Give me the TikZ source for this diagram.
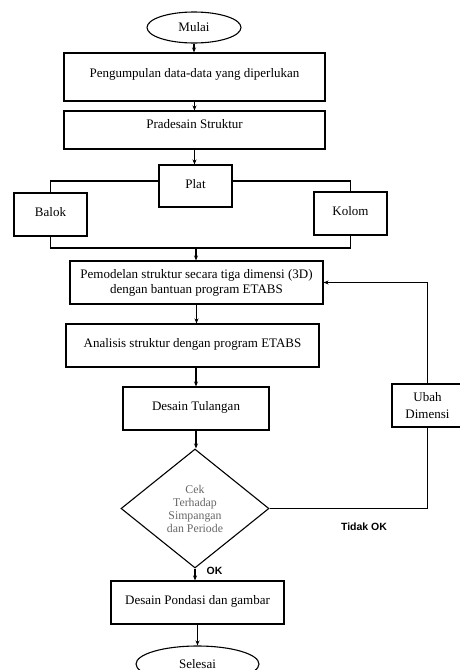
\documentclass[tikz,border=0pt]{standalone}
\usepackage{fontspec}
\setmainfont{Liberation Serif}
\newfontfamily\arialfont{Liberation Sans}
\usetikzlibrary{arrows.meta,positioning,shapes.geometric}

\begin{document}
\begin{tikzpicture}[x=1pt,y=-1pt,
    kotak/.style={draw, line width=1.1pt, inner sep=0pt, align=center,
      font=\fontsize{13}{15}\selectfont},
    satu/.style={text height=9pt, text depth=5pt},
    terminal/.style={draw, ellipse, line width=1.1pt, inner sep=0pt,
      font=\fontsize{13}{15}\selectfont},
    keputusan/.style={draw, diamond, aspect=1.24, line width=1.1pt, inner sep=0pt,
      align=center, text=black!60, font=\fontsize{11.8}{13}\selectfont},
    panah/.style={-{Stealth[length=5pt,width=4pt]}, line width=1.1pt},
    garis/.style={line width=1.1pt},
    catatan/.style={font=\arialfont\bfseries\fontsize{10.5}{12}\selectfont}]
    \useasboundingbox (0,0) rectangle (459,670);

    % Terminal awal
    \node[terminal, minimum width=94pt, minimum height=31pt] (mulai) at (194,27.5) {Mulai};

    % Kolom utama
    \node[kotak, minimum width=261pt, minimum height=48pt, text height=8pt, text depth=7pt]
      (data) at (194.5,77) {Pengumpulan data-data yang diperlukan};
    \node[kotak, minimum width=261pt, minimum height=38pt, text height=6pt, text depth=9pt]
      (pradesain) at (194.5,130) {Pradesain Struktur};

    % Elemen struktur
    \node[kotak, satu, minimum width=73pt, minimum height=42pt] (plat) at (195.5,186) {Plat};
    \node[kotak, satu, minimum width=73pt, minimum height=43pt] (balok) at (50.5,214.5) {Balok};
    \node[kotak, satu, minimum width=73pt, minimum height=43pt] (kolom) at (350.5,213.5) {Kolom};
    \coordinate (gabung) at (196,248);

    % Pemodelan dan analisis
    \node[kotak, minimum width=253pt, minimum height=43pt] (pemodelan) at (196.5,282.5)
      {Pemodelan struktur secara tiga dimensi (3D)\\dengan bantuan program ETABS};
    \node[kotak, satu, minimum width=253pt, minimum height=43pt] (analisis) at (192.5,345.5)
      {Analisis struktur dengan program ETABS};
    \node[kotak, satu, minimum width=146pt, minimum height=43pt] (tulangan) at (196,408.5)
      {Desain Tulangan};

    % Pengecekan
    \node[keputusan, minimum width=148pt, minimum height=119pt] (cek) at (195,508.5)
      {Cek\\Terhadap\\Simpangan\\dan Periode};
    \node[kotak, minimum width=71pt, minimum height=43pt] (ubah) at (427.5,405.5)
      {Ubah\\[2pt]Dimensi};
    \node[catatan] (tidakok) at (364,527) {Tidak OK};
    \node[catatan] (ok) at (214.5,571) {OK};

    % Akhir
    \node[kotak, satu, minimum width=173pt, minimum height=43pt] (pondasi) at (197.5,602.5)
      {Desain Pondasi dan gambar};
    \node[terminal, minimum width=123pt, minimum height=36pt] (selesai) at (197.5,664) {Selesai};

    % Alur
    \draw[panah] (mulai.south) -- (mulai.south |- data.north);
    \draw[panah] (data.south) -- (data.south |- pradesain.north);
    \draw[panah] (pradesain.south) -- (pradesain.south |- plat.north);
    \draw[garis] ([yshift=5pt]plat.west) -| (balok.north);
    \draw[garis] ([yshift=5pt]plat.east) -| (kolom.north);
    \draw[garis] (balok.south) |- (gabung) -| (kolom.south);
    \draw[panah] (gabung) -- (gabung |- pemodelan.north);
    \draw[panah] (pemodelan.south) -- (pemodelan.south |- analisis.north);
    \draw[panah] (analisis.south -| tulangan.north) -- (tulangan.north);
    \draw[panah] (tulangan.south) -- (tulangan.south |- cek.north);
    \draw[panah] (cek.south) -- (cek.south |- pondasi.north);
    \draw[panah] (pondasi.south) -- (pondasi.south |- selesai.north);

    % Umpan balik
    \draw[garis] (cek.east) -| (ubah.south);
    \draw[panah] (ubah.north) |- (pemodelan.east);
  \end{tikzpicture}
\end{document}
